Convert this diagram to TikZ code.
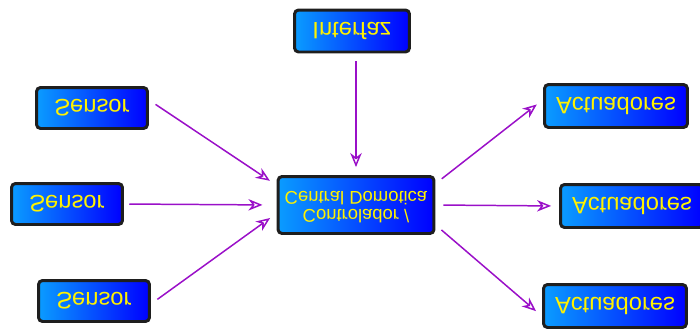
\documentclass[tikz,border=0pt]{standalone}
\usepackage{fontspec}
\setmainfont{Liberation Sans}
\usepackage{graphicx}
\usetikzlibrary{arrows.meta}
\definecolor{boxleft}{HTML}{0A9CFF}
\definecolor{boxright}{HTML}{0000FF}
\definecolor{linkcol}{HTML}{9A10C8}
\definecolor{rimcol}{HTML}{1E1E1E}
\newcommand{\fliptext}[1]{\scalebox{1}[-1]{#1}}

\begin{document}
\begin{tikzpicture}[x=0.02cm,y=-0.02cm,
	box/.style={draw=rimcol, line width=1.7pt, rounded corners=2.3pt, left color=boxleft, right color=boxright, text=yellow, inner sep=0pt, font=\fontsize{13.5}{14}\selectfont},
	link/.style={draw=linkcol, line width=0.85pt, -{Stealth[open,length=8pt,width=6.5pt,inset=2.5pt]}, shorten <=4.5pt, shorten >=4.5pt}]
	\clip (0,0) rectangle (700,329);
	\node [box, minimum width=2.3cm, minimum height=0.84cm] (intf) at (352,31) {\fliptext{Interfaz}};
	\node [box, minimum width=2.22cm, minimum height=0.82cm] (s1) at (92,108) {\fliptext{Sensor}};
	\node [box, minimum width=2.22cm, minimum height=0.82cm] (s2) at (67,204) {\fliptext{Sensor}};
	\node [box, minimum width=2.22cm, minimum height=0.82cm] (s3) at (94,301) {\fliptext{Sensor}};
	\node [box, minimum width=3.12cm, minimum height=1.14cm, font=\fontsize{10.5}{10}\selectfont] (ctrl) at (356,205) {\fliptext{\renewcommand{\arraystretch}{0.85}\begin{tabular}{@{}c@{}}Controlador /\\Central Domotica\end{tabular}}};
	\node [box, minimum width=2.86cm, minimum height=0.86cm] (act1) at (616,106) {\fliptext{Actuadores}};
	\node [box, minimum width=2.86cm, minimum height=0.86cm] (act2) at (632,206) {\fliptext{Actuadores}};
	\node [box, minimum width=2.86cm, minimum height=0.86cm] (act3) at (615,306) {\fliptext{Actuadores}};
	\draw [link] (s1.8) -- (ctrl.166);
	\draw [link, shorten <=3pt, shorten >=8pt] (s2.east) -- (ctrl.west);
	\draw [link] (s3.-3) -- (ctrl.186);
	\draw [link] (ctrl.north |- intf.south) -- (ctrl.north);
	\draw [link] (ctrl.15) -- (act1.175);
	\draw [link] (ctrl.east) -- (act2.west);
	\draw [link] (ctrl.-14) -- (act3.188);
\end{tikzpicture}
\end{document}
